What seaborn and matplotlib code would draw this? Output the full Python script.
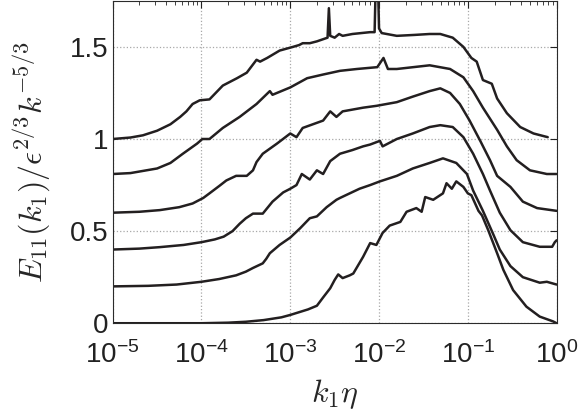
import numpy as np
import matplotlib
matplotlib.use('Agg')
import matplotlib.pyplot as plt
from matplotlib import ticker
import seaborn as sns

# log10(k1*eta) and compensated spectrum for the six curves (offset by 0.2 each)
lk0 = [-5.0, -4.0, -3.7, -3.5, -3.3, -3.1, -3.0, -2.9, -2.8, -2.7, -2.63, -2.55, -2.50, -2.46, -2.41,
       -2.33, -2.29, -2.18, -2.10, -2.03, -1.96, -1.88, -1.76, -1.69, -1.58, -1.52, -1.48, -1.39, -1.28,
       -1.24, -1.18, -1.13, -1.05, -1.00, -0.96, -0.88, -0.84, -0.77, -0.67, -0.60, -0.49, -0.34, -0.19,
       -0.04, 0.0]
e0 = [0.0, 0.0, 0.003, 0.008, 0.017, 0.032, 0.045, 0.06, 0.075, 0.095, 0.14, 0.19, 0.235, 0.265, 0.245,
      0.26, 0.27, 0.36, 0.435, 0.425, 0.49, 0.53, 0.55, 0.605, 0.625, 0.605, 0.685, 0.67, 0.705,
      0.76, 0.73, 0.77, 0.74, 0.705, 0.695, 0.61, 0.585, 0.505, 0.38, 0.29, 0.18, 0.09, 0.036,
      0.01, 0.0]

lk1 = [-5.0, -4.6, -4.28, -4.0, -3.8, -3.61, -3.50, -3.42, -3.31, -3.27, -3.23, -3.12, -3.00, -2.89,
       -2.78, -2.70, -2.59, -2.48, -2.44, -2.33, -2.22, -2.10, -1.99, -1.80, -1.62, -1.43, -1.28, -1.13,
       -1.01, -0.94, -0.83, -0.72, -0.64, -0.52, -0.38, -0.19, -0.11, 0.0]
e1 = [0.200, 0.203, 0.21, 0.225, 0.24, 0.26, 0.28, 0.30, 0.325, 0.35, 0.38, 0.425, 0.465, 0.515,
      0.57, 0.58, 0.63, 0.67, 0.68, 0.705, 0.73, 0.75, 0.77, 0.80, 0.84, 0.87, 0.895, 0.87,
      0.81, 0.72, 0.61, 0.49, 0.40, 0.31, 0.25, 0.22, 0.225, 0.21]

lk2 = [-5.0, -4.7, -4.47, -4.2, -4.0, -3.85, -3.75, -3.65, -3.57, -3.50, -3.42, -3.31, -3.20, -3.08,
       -3.00, -2.93, -2.87, -2.78, -2.70, -2.63, -2.55, -2.44, -2.30, -2.18, -2.10, -1.99, -1.96, -1.80,
       -1.62, -1.43, -1.31, -1.17, -1.05, -0.94, -0.83, -0.75, -0.64, -0.52, -0.38, -0.19, -0.05, -0.02,
       0.0]
e2 = [0.40, 0.405, 0.413, 0.425, 0.44, 0.455, 0.47, 0.50, 0.54, 0.57, 0.595, 0.595, 0.66, 0.71,
      0.73, 0.75, 0.81, 0.78, 0.83, 0.81, 0.88, 0.92, 0.94, 0.96, 0.97, 0.99, 0.96, 1.00,
      1.03, 1.065, 1.075, 1.065, 1.01, 0.92, 0.81, 0.72, 0.60, 0.505, 0.44, 0.415, 0.415, 0.44,
      0.45]

lk3 = [-5.0, -4.7, -4.47, -4.25, -4.10, -3.98, -3.91, -3.80, -3.72, -3.61, -3.49, -3.42, -3.38, -3.31,
       -3.15, -3.00, -2.93, -2.86, -2.63, -2.55, -2.48, -2.41, -2.18, -2.03, -1.80, -1.62, -1.43, -1.31,
       -1.20, -1.09, -0.98, -0.86, -0.75, -0.67, -0.52, -0.38, -0.22, 0.0]
e3 = [0.600, 0.605, 0.614, 0.63, 0.65, 0.68, 0.705, 0.745, 0.775, 0.80, 0.80, 0.83, 0.875, 0.92,
      0.975, 1.03, 1.01, 1.06, 1.10, 1.15, 1.12, 1.15, 1.17, 1.18, 1.20, 1.23, 1.26, 1.275,
      1.25, 1.19, 1.10, 0.99, 0.885, 0.80, 0.74, 0.66, 0.625, 0.61]

lk4 = [-5.0, -4.8, -4.5, -4.35, -4.21, -4.05, -3.99, -3.91, -3.76, -3.57, -3.38, -3.23, -3.20, -3.00,
       -2.81, -2.63, -2.44, -2.25, -2.02, -1.95, -1.90, -1.80, -1.43, -1.20, -1.05, -0.94, -0.83, -0.67,
       -0.56, -0.45, -0.30, -0.11, 0.0]
e4 = [0.81, 0.815, 0.84, 0.87, 0.92, 0.975, 1.00, 1.00, 1.06, 1.12, 1.19, 1.26, 1.24, 1.28,
      1.33, 1.35, 1.37, 1.38, 1.39, 1.44, 1.38, 1.38, 1.40, 1.38, 1.335, 1.26, 1.17, 1.05,
      0.96, 0.885, 0.83, 0.81, 0.81]

lk5 = [-5.0, -4.8, -4.66, -4.5, -4.35, -4.24, -4.17, -4.10, -4.02, -3.91, -3.76, -3.60, -3.49, -3.38,
       -3.34, -3.26, -3.12, -2.97, -2.90, -2.86, -2.78, -2.70, -2.58, -2.565, -2.55, -2.50, -2.45, -2.41,
       -2.30, -2.10, -2.05, -2.025, -2.00, -1.97, -1.80, -1.60, -1.43, -1.31, -1.17, -1.05, -0.96, -0.90,
       -0.83, -0.73, -0.67, -0.56, -0.41, -0.26, -0.10]
e5 = [1.00, 1.008, 1.02, 1.045, 1.08, 1.12, 1.15, 1.19, 1.21, 1.215, 1.29, 1.33, 1.36, 1.43,
      1.42, 1.44, 1.48, 1.50, 1.51, 1.52, 1.52, 1.53, 1.55, 1.71, 1.56, 1.55, 1.57, 1.56,
      1.57, 1.58, 1.58, 2.10, 1.60, 1.575, 1.56, 1.565, 1.57, 1.57, 1.55, 1.50, 1.44, 1.42,
      1.32, 1.30, 1.22, 1.14, 1.065, 1.03, 1.01]

curves = [(lk0, e0), (lk1, e1), (lk2, e2), (lk3, e3), (lk4, e4), (lk5, e5)]

sns.set_style('white')
plt.rcParams['font.family'] = ['Liberation Sans', 'DejaVu Sans']
plt.rcParams['mathtext.fontset'] = 'custom'
plt.rcParams['mathtext.rm'] = 'Liberation Sans'
plt.rcParams['mathtext.it'] = 'Liberation Sans:italic'

fig = plt.figure(figsize=(5.81, 4.16), dpi=100)
ax = fig.add_axes([0.194, 0.223, 0.764, 0.775])

for lk, e in curves:
    sns.lineplot(x=10 ** np.array(lk), y=e, ax=ax, color='#231f20', lw=1.8,
                 sort=False, estimator=None)

ax.set_xscale('log')
ax.set_xlim(1e-5, 1)
ax.set_ylim(0, 1.75)
ax.set_yticks([0, 0.5, 1, 1.5])
ax.set_yticklabels(['0', '0.5', '1', '1.5'])
ax.xaxis.set_major_locator(ticker.LogLocator(base=10, numticks=10))
ax.xaxis.set_minor_locator(ticker.LogLocator(base=10, subs=np.arange(2, 10), numticks=20))
ax.xaxis.set_minor_formatter(ticker.NullFormatter())

ax.grid(True, which='major', ls=':', color='#a8a8a8', lw=0.9)
ax.tick_params(which='both', direction='in', top=True, right=True, labelsize=20, colors='#222222')
ax.tick_params(which='major', length=5, width=0.8)
ax.tick_params(which='minor', length=3, width=0.6)
ax.tick_params(axis='y', pad=3)
ax.tick_params(axis='x', pad=13)
for s in ax.spines.values():
    s.set_color('#2b2b2b')
    s.set_linewidth(0.8)

ax.set_xlabel(r'$k_1\eta$', fontsize=23, math_fontfamily='cm', labelpad=6)
ax.set_ylabel(r'$E_{11}(k_1)/\epsilon^{2/3}k^{-5/3}$', fontsize=23, math_fontfamily='cm', labelpad=13)

fig.savefig('out.png', dpi=100)
